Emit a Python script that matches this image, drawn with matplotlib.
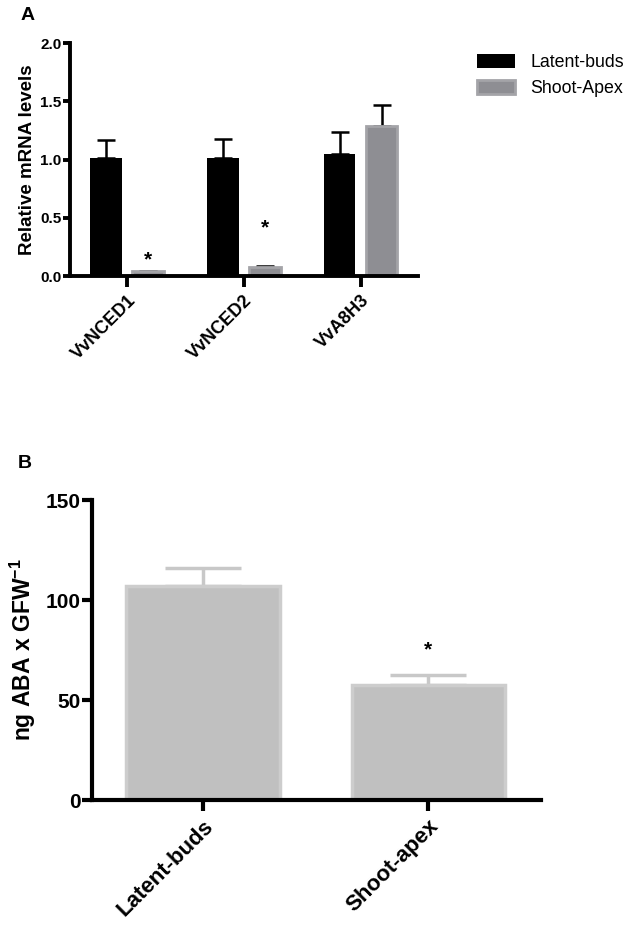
import numpy as np
import matplotlib
matplotlib.use("Agg")
import matplotlib.pyplot as plt

plt.rcParams['font.family'] = ['Liberation Sans', 'DejaVu Sans']
plt.rcParams['mathtext.fontset'] = 'custom'
plt.rcParams['mathtext.rm'] = 'Liberation Sans:bold'
plt.rcParams['mathtext.bf'] = 'Liberation Sans:bold'

# Panel A data
genes = ['VvNCED1', 'VvNCED2', 'VvA8H3']
latent_mrna = [1.01, 1.01, 1.05]
latent_err = [0.16, 0.17, 0.19]
shoot_mrna = [0.04, 0.08, 1.29]
shoot_err = [0.005, 0.01, 0.18]
star_a_y = [0.14, 0.41]   # asterisks above shoot bars of first two genes

# Panel B data
tissues = ['Latent-buds', 'Shoot-apex']
aba = [107, 57.4]
aba_err = [8.8, 5.1]
star_b_y = 75

fig = plt.figure(figsize=(6.36, 9.31), dpi=100)

def style_axes(ax, lw, tlx, tly):
    for s in ['top', 'right']:
        ax.spines[s].set_visible(False)
    for s in ['left', 'bottom']:
        ax.spines[s].set_linewidth(lw)
    ax.tick_params(axis='y', width=lw, length=tly, direction='out', pad=1)
    ax.tick_params(axis='x', width=lw, length=tlx, direction='out')

# ---- A ----
axA = fig.add_axes([0.110, 0.7035, 0.547, 0.2503])
x = np.arange(len(genes))
w = 0.27
off = 0.18
axA.errorbar(x - off, latent_mrna, yerr=[np.zeros(3), latent_err], fmt='none',
             ecolor='black', elinewidth=1.8, capsize=6.5, capthick=1.8, zorder=1)
axA.errorbar(x + off, shoot_mrna, yerr=[np.zeros(3), shoot_err], fmt='none',
             ecolor='black', elinewidth=1.8, capsize=6.5, capthick=1.8, zorder=1)
axA.bar(x - off, latent_mrna, w, color='black', label='Latent-buds', zorder=2)
axA.bar(x + off, shoot_mrna, w, color='#8e8e93', edgecolor='#a4a4a8', linewidth=2,
        label='Shoot-Apex', zorder=2)
for i, sy in enumerate(star_a_y):
    axA.text(x[i] + off, sy, '*', ha='center', va='center', fontsize=15, fontweight='bold')
axA.set_xlim(-0.49, 2.49)
axA.set_ylim(0, 2.0)
axA.set_yticks([0, 0.5, 1.0, 1.5, 2.0])
axA.set_yticklabels(['0.0', '0.5', '1.0', '1.5', '2.0'], fontsize=11, fontweight='bold')
axA.set_xticks(x)
axA.set_xticklabels(genes, rotation=45, ha='right', rotation_mode='anchor',
                    fontsize=13, fontweight='bold')
axA.set_ylabel('Relative mRNA levels', fontsize=13.5, fontweight='bold', labelpad=3)
style_axes(axA, 2.8, 8, 5)
axA.legend(loc='upper left', bbox_to_anchor=(1.125, 1.02), frameon=False, fontsize=12.8,
           handlelength=2.1, handleheight=0.78, handletextpad=0.9, labelspacing=0.5)
fig.text(0.033, 0.9925, 'A', fontsize=14, fontweight='bold', va='top')

# ---- B ----
axB = fig.add_axes([0.1447, 0.1407, 0.706, 0.3222])
xb = np.arange(len(tissues))
axB.errorbar(xb, aba, yerr=[np.zeros(2), aba_err], fmt='none', ecolor='#c8c8c8',
             elinewidth=2.5, capsize=27.7, capthick=2.5, zorder=1)
axB.bar(xb, aba, 0.68, color='#c0c0c0', edgecolor='#cdcdcd', linewidth=2.5, zorder=2)
axB.text(xb[1], star_b_y, '*', ha='center', va='center', fontsize=15, fontweight='bold')
axB.set_xlim(-0.493, 1.502)
axB.set_ylim(0, 150)
axB.set_yticks([0, 50, 100, 150])
axB.set_yticklabels(['0', '50', '100', '150'], fontsize=15, fontweight='bold')
axB.set_xticks(xb)
axB.set_xticklabels(tissues, rotation=45, ha='right', rotation_mode='anchor',
                    fontsize=16, fontweight='bold')
axB.set_ylabel('ng ABA x GFW$^{-1}$', fontsize=16.5, fontweight='bold', labelpad=6)
style_axes(axB, 3.0, 8, 7)
fig.text(0.028, 0.511, 'B', fontsize=14, fontweight='bold', va='top')

fig.savefig('out.png', dpi=100)
